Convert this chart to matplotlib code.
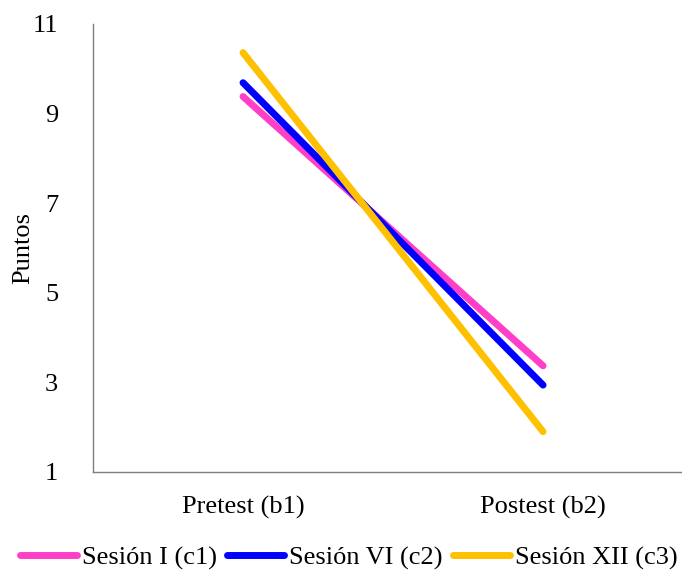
import matplotlib
matplotlib.use("Agg")
import matplotlib.pyplot as plt

# mean points per session, pretest vs postest
momentos = ["Pretest (b1)", "Postest (b2)"]
sesiones = ["Sesión I (c1)", "Sesión VI (c2)", "Sesión XII (c3)"]
puntos_c1 = [9.38, 3.37]
puntos_c2 = [9.69, 2.94]
puntos_c3 = [10.36, 1.90]
colores = ["#FF3FC8", "#0000FF", "#FFC000"]

plt.rcParams["font.family"] = ["Liberation Serif", "DejaVu Serif"]

fig = plt.figure(figsize=(6.82, 5.71), dpi=100)
ax = fig.add_axes([93 / 682, 1 - 472 / 571, 1 - 93 / 682, 448 / 571])

x = list(range(len(momentos)))
for serie, col, nombre in zip([puntos_c1, puntos_c2, puntos_c3], colores, sesiones):
    ax.plot(x, serie, color=col, lw=5, solid_capstyle="round", label=nombre)

ax.set_xlim(-0.5, 1.463)
ax.set_ylim(1, 11)
ax.set_yticks([1, 3, 5, 7, 9, 11])
ax.set_xticks(x)
ax.set_xticklabels(momentos)
ax.tick_params(axis="both", length=0, labelsize=19)
ax.tick_params(axis="x", pad=17)
ax.tick_params(axis="y", pad=25)
ax.set_ylabel("Puntos", fontsize=19)
ax.yaxis.set_label_coords(-0.1, 0.5)

for s in ["top", "right"]:
    ax.spines[s].set_visible(False)
for s in ["left", "bottom"]:
    ax.spines[s].set_color("#7f7f7f")
    ax.spines[s].set_linewidth(1)

ax.legend(loc="center", bbox_to_anchor=(0.4346, -0.191), ncol=3,
          frameon=False, fontsize=19, handlelength=2.15, handletextpad=0.2,
          columnspacing=0.4, borderaxespad=0)

fig.savefig("out.png", dpi=100)
